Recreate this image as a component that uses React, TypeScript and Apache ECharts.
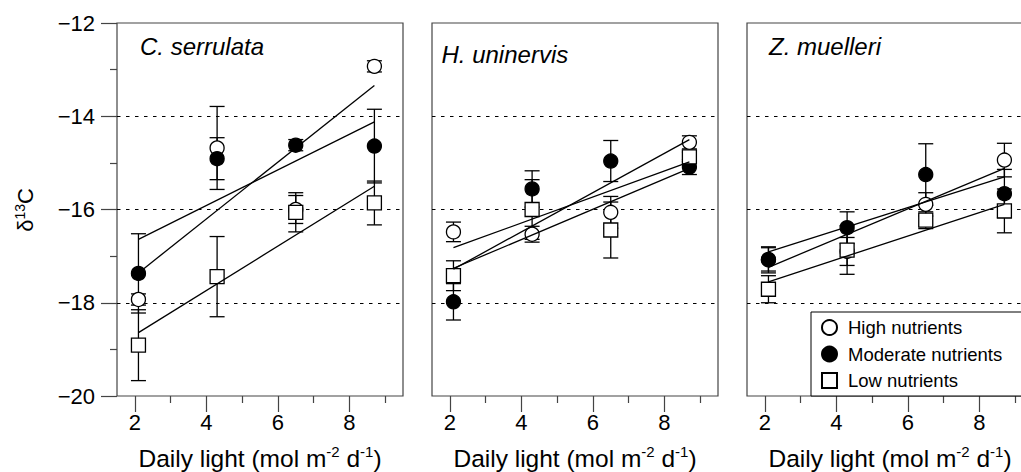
import React, { useEffect, useRef } from 'react';
import * as echarts from 'echarts';

// ---- data ----
const lightLevels = [2.1, 4.3, 6.5, 8.7];
const fitRange = [2.1, 8.7];
const speciesNames = ['C. serrulata', 'H. uninervis', 'Z. muelleri'];
const treatmentNames = ['High nutrients', 'Moderate nutrients', 'Low nutrients'];
const xTickValues = [2, 4, 6, 8];
const xMinorTickValues = [3, 5, 7, 9];

// C. serrulata
const csHigh = [-17.93, -14.68, -16.0, -12.93];
const csHighErr = [0.12, 0.89, 0.3, 0.12];
const csModerate = [-17.37, -14.91, -14.62, -14.64];
const csModerateErr = [0.85, 0.45, 0.12, 0.79];
const csLow = [-18.91, -17.44, -16.06, -15.86];
const csLowErr = [0.76, 0.86, 0.42, 0.47];
const csHighFit = [-17.36, -13.34];
const csModerateFit = [-16.64, -14.12];
const csLowFit = [-18.64, -15.5];

// H. uninervis
const huHigh = [-16.48, -16.53, -16.06, -14.56];
const huHighErr = [0.21, 0.17, 0.34, 0.14];
const huModerate = [-17.98, -15.56, -14.96, -15.09];
const huModerateErr = [0.39, 0.39, 0.44, 0.16];
const huLow = [-17.42, -16.0, -16.44, -14.87];
const huLowErr = [0.32, 0.64, 0.6, 0.1];
const huHighFit = [-16.82, -14.98];
const huModerateFit = [-17.28, -14.5];
const huLowFit = [-17.26, -15.12];

// Z. muelleri
const zmHigh = [-17.08, -16.9, -15.89, -14.94];
const zmHighErr = [0.28, 0.3, 0.25, 0.36];
const zmModerate = [-17.07, -16.39, -15.25, -15.66];
const zmModerateErr = [0.25, 0.34, 0.66, 0.52];
const zmLow = [-17.71, -16.87, -16.23, -16.03];
const zmLowErr = [0.29, 0.52, 0.18, 0.47];
const zmHighFit = [-17.24, -15.12];
const zmModerateFit = [-16.91, -15.3];
const zmLowFit = [-17.55, -15.89];

const panels = [
  { means: [csHigh, csModerate, csLow], errs: [csHighErr, csModerateErr, csLowErr], fits: [csHighFit, csModerateFit, csLowFit] },
  { means: [huHigh, huModerate, huLow], errs: [huHighErr, huModerateErr, huLowErr], fits: [huHighFit, huModerateFit, huLowFit] },
  { means: [zmHigh, zmModerate, zmLow], errs: [zmHighErr, zmModerateErr, zmLowErr], fits: [zmHighFit, zmModerateFit, zmLowFit] },
];

// ---- styling ----
const FONT = "'Liberation Sans', Arial, Helvetica, sans-serif";
const frameColor = '#444';
const panelLefts = [117, 432, 747];
const panelTop = 23;
const panelWidth = 286;
const panelHeight = 373;
const symbols = ['circle', 'circle', 'rect'];
const fills = ['#ffffff', '#000000', '#ffffff'];
const titlePositions = [
  [140, 46],
  [441.5, 54],
  [769, 46],
];

export default function App() {
  const ref = useRef<HTMLDivElement>(null);

  useEffect(() => {
    document.body.style.margin = '0';
    if (!ref.current) return;
    const chart = echarts.init(ref.current, null, { renderer: 'svg' });

    const tickLine = { color: frameColor, width: 1.2 };

    const grid = panelLefts.map((l) => ({
      left: l,
      top: panelTop,
      width: panelWidth,
      height: panelHeight,
      show: true,
      borderColor: frameColor,
      borderWidth: 1.2,
      backgroundColor: 'rgba(0,0,0,0)',
    }));

    const xAxis: any[] = [];
    panels.forEach((_, i) => {
      xAxis.push({
        type: 'value',
        gridIndex: i,
        min: 1.5,
        max: 9.5,
        position: 'bottom',
        axisLine: { show: false, onZero: false },
        splitLine: { show: false },
        axisTick: { show: true, customValues: xTickValues, length: 16, lineStyle: tickLine },
        axisLabel: {
          customValues: xTickValues,
          fontSize: 22,
          color: '#000',
          fontFamily: FONT,
          margin: 15,
        },
      });
      xAxis.push({
        type: 'value',
        gridIndex: i,
        min: 1.5,
        max: 9.5,
        position: 'bottom',
        offset: 0,
        axisLine: { show: false, onZero: false },
        splitLine: { show: false },
        axisTick: { show: true, customValues: xMinorTickValues, length: 7, lineStyle: tickLine },
        axisLabel: { show: false },
      });
    });

    const yAxis = panels.map((_, i) => ({
      type: 'value',
      gridIndex: i,
      min: -20,
      max: -12,
      interval: 2,
      axisLine: { show: false, onZero: false },
      axisTick: { show: i === 0, length: 16, lineStyle: tickLine },
      minorTick: { show: i === 0, splitNumber: 2, length: 7, lineStyle: tickLine },
      axisLabel: {
        show: i === 0,
        formatter: (v: number) => '\u2212' + Math.abs(v),
        fontSize: 22,
        color: '#000',
        fontFamily: FONT,
        margin: 22,
      },
      splitLine: {
        show: true,
        showMinLine: false,
        showMaxLine: false,
        lineStyle: { type: [3.5, 5.5], color: '#000', width: 1 },
      },
    }));

    const series: any[] = [];
    panels.forEach((p, i) => {
      for (let t = 0; t < 3; t++) {
        const means = p.means[t];
        const errs = p.errs[t];
        series.push({
          type: 'custom',
          name: treatmentNames[t] + ' SE',
          xAxisIndex: 2 * i,
          yAxisIndex: i,
          silent: true,
          data: lightLevels.map((x, k) => [x, means[k] - errs[k], means[k] + errs[k]]),
          encode: { x: 0, y: [1, 2] },
          renderItem: (_params: any, api: any) => {
            const x = api.value(0);
            const lo = api.coord([x, api.value(1)]);
            const hi = api.coord([x, api.value(2)]);
            const w = 7.5;
            const style = { stroke: '#000', lineWidth: 1.3, fill: 'none' };
            return {
              type: 'group',
              children: [
                { type: 'line', shape: { x1: lo[0], y1: lo[1], x2: hi[0], y2: hi[1] }, style },
                { type: 'line', shape: { x1: lo[0] - w, y1: lo[1], x2: lo[0] + w, y2: lo[1] }, style },
                { type: 'line', shape: { x1: hi[0] - w, y1: hi[1], x2: hi[0] + w, y2: hi[1] }, style },
              ],
            };
          },
        });
        series.push({
          type: 'scatter',
          name: treatmentNames[t],
          xAxisIndex: 2 * i,
          yAxisIndex: i,
          symbol: symbols[t],
          symbolSize: 14,
          data: lightLevels.map((x, k) => [x, means[k]]),
          itemStyle: { color: fills[t], borderColor: '#000', borderWidth: 1.3, opacity: 1 },
          emphasis: { disabled: true },
        });
      }
      for (let t = 0; t < 3; t++) {
        const fit = p.fits[t];
        series.push({
          type: 'line',
          name: treatmentNames[t] + ' fit',
          xAxisIndex: 2 * i,
          yAxisIndex: i,
          data: fitRange.map((x, k) => [x, fit[k]]),
          showSymbol: false,
          symbol: 'none',
          silent: true,
          lineStyle: { color: '#000', width: 1.3 },
          emphasis: { disabled: true },
        });
      }
    });

    const graphic: any[] = [];
    speciesNames.forEach((name, i) => {
      graphic.push({
        type: 'text',
        x: titlePositions[i][0],
        y: titlePositions[i][1],
        silent: true,
        style: {
          text: name,
          font: `italic 24px ${FONT}`,
          fill: '#000',
          align: 'left',
          verticalAlign: 'middle',
        },
      });
      graphic.push({
        type: 'text',
        x: panelLefts[i] + panelWidth / 2,
        y: 458,
        silent: true,
        style: {
          text: '{a|Daily light (mol m}{s|-2}{a| d}{s|-1}{a|)}',
          align: 'center',
          verticalAlign: 'middle',
          rich: {
            a: { fontSize: 24.5, fontFamily: FONT, fill: '#000', lineHeight: 28, verticalAlign: 'middle' },
            s: { fontSize: 15, fontFamily: FONT, fill: '#000', lineHeight: 15, verticalAlign: 'top' },
          },
        },
      });
    });
    graphic.push({
      type: 'text',
      x: 25.5,
      y: 210,
      rotation: Math.PI / 2,
      silent: true,
      style: {
        text: '{a|\u03b4}{s|13}{a|C}',
        align: 'center',
        verticalAlign: 'middle',
        rich: {
          a: { fontSize: 22, fontFamily: FONT, fill: '#000', lineHeight: 26, verticalAlign: 'middle' },
          s: { fontSize: 14, fontFamily: FONT, fill: '#000', lineHeight: 14, verticalAlign: 'top' },
        },
      },
    });

    chart.setOption({
      animation: false,
      backgroundColor: '#fff',
      grid,
      xAxis,
      yAxis,
      series,
      graphic,
      legend: {
        data: treatmentNames,
        left: 811,
        top: 312,
        orient: 'vertical',
        selectedMode: false,
        backgroundColor: '#fff',
        borderColor: '#000',
        borderWidth: 1,
        borderRadius: 0,
        padding: [6, 40, 6, 10],
        itemWidth: 15,
        itemHeight: 15,
        itemGap: 7.5,
        textStyle: { fontSize: 18.5, color: '#000', fontFamily: FONT, lineHeight: 15, padding: [0, 0, 0, 6] },
      },
    });

    return () => chart.dispose();
  }, []);

  return (
    <div style={{ width: 1021, height: 472, overflow: 'hidden', position: 'relative' }}>
      <div ref={ref} style={{ width: 1045, height: 472 }} />
    </div>
  );
}
